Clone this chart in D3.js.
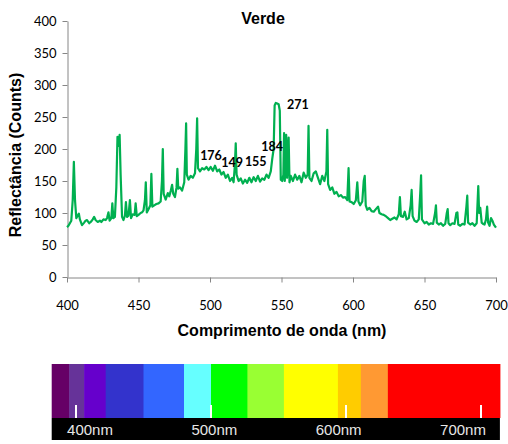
<!DOCTYPE html>
<html>
<head>
<meta charset="utf-8">
<script src="https://cdn.jsdelivr.net/npm/d3@7"></script>
<style>
  body { margin: 0; background: #fff; }
</style>
</head>
<body>
<div id="canvas"></div>
<script>
"use strict"

/* spectrum readings: wavelength (nm) and counts */
let wavelengths = [
  400, 401, 402, 403, 404, 404.8, 405.6, 406.5, 407.5, 408.3, 409, 410.5, 412, 413, 414, 415.5, 417, 418, 419, 420,
  421.5, 423, 424, 425.5, 427, 428, 429, 429.8, 431, 431.7, 432.4, 433.5, 434.5, 435.3, 436, 436.8, 437.5, 438.5, 439.5, 440.5,
  441.2, 442, 443, 444, 444.8, 446, 447.3, 448, 448.8, 450, 451.5, 452.5, 453.5, 454.5, 455.1, 455.8, 457, 458.3, 459, 459.7,
  461, 462.5, 464, 465.5, 466.4, 467, 467.6, 469, 470.5, 471.5, 472.6, 473.5, 474.3, 475.5, 476.6, 477.2, 477.8, 479, 480.5, 482,
  482.8, 483.3, 483.8, 485, 486.5, 488, 489.5, 490.4, 491, 491.6, 493, 494.5, 496, 497.5, 499, 500.5, 502, 503.5, 505, 506.5,
  508, 509.5, 511, 512.5, 514, 515.5, 516.5, 517.4, 518, 518.6, 520, 521.5, 523, 524.5, 526, 527.5, 529, 530.5, 532, 533.5,
  535, 536.5, 538, 539.5, 541, 542.5, 543.5, 544.5, 545.2, 546, 547, 548, 548.8, 549.5, 550.5, 551.3, 551.8, 552.3, 553.3, 553.9,
  555, 555.6, 556.5, 558, 559.5, 561, 562.5, 564, 565.5, 567, 568.3, 568.9, 569.5, 571, 572.5, 574, 575.5, 577, 578.5, 580,
  581.4, 582, 582.6, 584, 585.5, 587, 588.5, 590, 591.5, 593, 594.5, 596, 596.9, 597.6, 599, 600.5, 602, 603, 603.8, 605,
  606.5, 607.5, 608.2, 608.9, 610, 611.5, 613, 614.5, 616, 617.5, 618.5, 620, 621.5, 623, 624.5, 626, 627.5, 629, 630.5, 632,
  632.8, 633.5, 635, 636.2, 637.5, 639, 640.3, 641, 641.7, 643, 644.5, 646, 647, 647.6, 648.2, 650, 651.5, 653, 654.5, 656,
  657.4, 658, 658.6, 660, 661.5, 663, 664.5, 665.6, 666.2, 666.8, 668, 669.5, 671, 672.3, 673, 673.6, 675, 676.5, 678, 679.3,
  679.9, 680.5, 682, 683.5, 685, 686.5, 687.6, 688.2, 689, 690, 691, 692, 693, 693.8, 694.5, 695.5, 696.5, 697.5, 698.5, 700
];
let counts = [
  78, 80, 84, 88, 120, 180, 120, 92, 96, 99, 90, 81, 85, 88, 89, 84, 87, 90, 94, 89,
  86, 88, 86, 90, 89, 92, 101, 88, 92, 115, 92, 94, 140, 219, 205, 222, 160, 94, 89, 96,
  117, 94, 96, 120, 92, 98, 97, 115, 95, 97, 100, 101, 104, 120, 148, 101, 106, 112, 161, 110,
  112, 114, 115, 118, 150, 200, 130, 121, 131, 126, 135, 144, 130, 125, 140, 169, 138, 140, 135, 148,
  200, 240, 160, 152, 158, 155, 162, 200, 248, 170, 165, 170, 168, 172, 167, 172, 166, 174, 165, 168,
  160, 164, 155, 160, 150, 155, 148, 175, 209, 160, 150, 154, 146, 152, 147, 155, 148, 156, 150, 158,
  149, 154, 152, 160, 155, 165, 184, 200, 268, 272, 271, 270, 260, 152, 150, 160, 225, 150, 222, 155,
  218, 148, 158, 150, 160, 152, 158, 148, 163, 155, 160, 236, 155, 150, 162, 165, 155, 145, 158, 150,
  165, 230, 145, 136, 140, 130, 133, 126, 128, 124, 125, 120, 170, 118, 117, 114, 120, 148, 118, 112,
  118, 150, 158, 112, 105, 108, 103, 102, 106, 110, 100, 98, 97, 95, 92, 89, 91, 93, 90, 98,
  125, 95, 94, 102, 90, 92, 112, 136, 95, 88, 86, 90, 130, 159, 90, 84, 86, 82, 84, 83,
  100, 112, 85, 82, 84, 80, 83, 100, 106, 84, 81, 84, 83, 100, 101, 82, 80, 83, 82, 110,
  127, 85, 82, 84, 80, 84, 142, 100, 108, 85, 83, 82, 90, 110, 85, 80, 92, 88, 82, 77
];

/* tick values */
let xTicks = [400, 450, 500, 550, 600, 650, 700];
let yTicks = [0, 50, 100, 150, 200, 250, 300, 350, 400];

/* data labels: text, and where they sit in data units */
let labelTexts = ["176", "149", "155", "184", "271"];
let labelNm = [500.7, 515.4, 532, 543.5, 561.5];
let labelCounts = [189, 178, 181, 203, 270];

/* colour strip under the chart */
let bandStarts = [382, 395, 406, 422, 450, 480, 500, 527, 554, 594, 611, 631];
let bandEnds = [395, 406, 422, 450, 480, 500, 527, 554, 594, 611, 631, 714];
let bandColours = ["#660066", "#663399", "#6600cc", "#3333cc", "#3366ff", "#66ffff",
                   "#00ff00", "#99ff33", "#ffff00", "#ffcc00", "#ff9933", "#ff0000"];
let stripTicks = [400, 500, 600, 700];
let stripLabels = ["400nm", "500nm", "600nm", "700nm"];

let drawing = d3.select("#canvas")
    .append("svg")
    .attr("width", 508)
    .attr("height", 444);

/* scales of the chart */
let x = d3.scaleLinear().domain([400, 700]).range([67, 496]);
let y = d3.scaleLinear().domain([0, 400]).range([277, 21]);

/* y axis */
let yAxis = drawing.append("g")
    .attr("transform", "translate(67.5,0)")
    .call(d3.axisLeft(y).tickValues(yTicks).tickSize(5).tickSizeOuter(0).tickPadding(6));

/* x axis */
let xAxis = drawing.append("g")
    .attr("transform", "translate(0,277.5)")
    .call(d3.axisBottom(x).tickValues(xTicks).tickSize(5).tickSizeOuter(0).tickPadding(18));

drawing.selectAll(".domain, .tick line")
    .attr("stroke", "#868686");
drawing.selectAll(".tick text")
    .attr("fill", "#000")
    .style("font-family", "Lato, 'Open Sans', sans-serif")
    .style("font-size", "13px");

/* the green line */
let line = d3.line()
    .x((d, i) => x(wavelengths[i]))
    .y(d => y(d));

drawing.append("path")
    .datum(counts)
    .attr("d", line)
    .attr("fill", "none")
    .attr("stroke", "#00b050")
    .attr("stroke-width", 2.2)
    .attr("stroke-linejoin", "round");

/* data labels */
drawing.selectAll(".peak")
    .data(labelTexts)
    .enter()
    .append("text")
    .attr("class", "peak")
    .attr("x", (d, i) => x(labelNm[i]))
    .attr("y", (d, i) => y(labelCounts[i]))
    .attr("dy", "0.35em")
    .attr("text-anchor", "middle")
    .style("font-family", "Lato, sans-serif")
    .style("font-weight", "bold")
    .style("font-size", "12.5px")
    .text(d => d);

/* title */
drawing.append("text")
    .attr("x", 263)
    .attr("y", 24)
    .attr("text-anchor", "middle")
    .style("font-family", "'Liberation Sans', Arial, sans-serif")
    .style("font-weight", "bold")
    .style("font-size", "16px")
    .text("Verde");

/* axis titles */
drawing.append("text")
    .attr("x", 282)
    .attr("y", 336)
    .attr("text-anchor", "middle")
    .style("font-family", "'Liberation Sans', Arial, sans-serif")
    .style("font-weight", "bold")
    .style("font-size", "16px")
    .text("Comprimento de onda (nm)");

drawing.append("text")
    .attr("transform", "translate(21,155) rotate(-90)")
    .attr("text-anchor", "middle")
    .style("font-family", "'Liberation Sans', Arial, sans-serif")
    .style("font-weight", "bold")
    .style("font-size", "16px")
    .text("Reflectância (Counts)");

/* colour strip */
let strip = d3.scaleLinear().domain([400, 700]).range([76, 481]);

drawing.append("rect")
    .attr("x", strip(382))
    .attr("y", 418)
    .attr("width", strip(714) - strip(382))
    .attr("height", 22)
    .attr("fill", "#000");

drawing.selectAll(".band")
    .data(bandColours)
    .enter()
    .append("rect")
    .attr("class", "band")
    .attr("x", (d, i) => strip(bandStarts[i]))
    .attr("y", 364)
    .attr("width", (d, i) => strip(bandEnds[i]) - strip(bandStarts[i]) + 0.5)
    .attr("height", 54)
    .attr("fill", d => d);

drawing.selectAll(".mark")
    .data(stripTicks)
    .enter()
    .append("rect")
    .attr("class", "mark")
    .attr("x", d => strip(d) - 1)
    .attr("y", 405)
    .attr("width", 2)
    .attr("height", 13)
    .attr("fill", "#fff");

let labelPlace = d3.scalePoint().domain(stripLabels).range([90, 463]);

drawing.selectAll(".nm")
    .data(stripLabels)
    .enter()
    .append("text")
    .attr("class", "nm")
    .attr("x", d => labelPlace(d))
    .attr("y", 435)
    .attr("text-anchor", "middle")
    .attr("fill", "#e6e6e6")
    .style("font-family", "'Liberation Sans', Arial, sans-serif")
    .style("font-size", "15px")
    .text(d => d);
</script>
</body>
</html>
